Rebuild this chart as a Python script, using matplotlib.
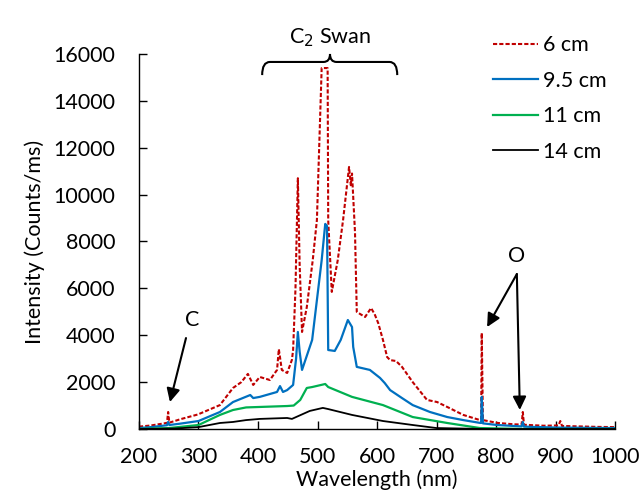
import matplotlib
matplotlib.use("Agg")
from matplotlib import pyplot as plt
from matplotlib.path import Path
from matplotlib.patches import PathPatch

plt.rcParams['font.family'] = ['Lato', 'DejaVu Sans']

# 6 cm
wl_6 = [200, 220, 240, 247, 249, 251, 270, 299, 336, 358, 372, 383, 392, 403, 420, 432, 435,
        440, 449, 457, 459, 463, 467, 470, 474, 482, 492, 499, 507, 517, 518, 524, 534, 543,
        553, 556, 558, 563, 566, 572, 580, 590, 596, 602, 610, 617, 622, 632, 642, 660, 684,
        701, 718, 745, 773, 775, 776, 778, 802, 830, 843, 845, 847, 880, 905, 908, 911, 940,
        970, 1000]
int_6 = [100, 150, 230, 260, 725, 270, 420, 620, 1020, 1750, 2000, 2350, 1880, 2220, 2090, 2520, 3410,
         2520, 2390, 2950, 3370, 6000, 10700, 7000, 4140, 5200, 7200, 8920, 15400, 15400, 8900, 5850, 7200, 8920,
         11180, 10400, 10900, 8400, 5000, 4900, 4780, 5160, 4900, 4520, 3800, 3070, 2940, 2900, 2650, 2000, 1240,
         1150, 940, 600, 380, 400, 4100, 380, 260, 200, 190, 725, 180, 140, 150, 340, 130, 110,
         90, 80]

# 9.5 cm
wl_95 = [200, 220, 247, 249, 251, 270, 300, 336, 358, 387, 392, 403, 432, 437, 442, 449, 459,
         464, 467, 470, 474, 491, 507, 513, 516, 518, 529, 539, 551, 558, 560, 566, 588, 605,
         613, 622, 642, 660, 689, 718, 745, 773, 775, 776, 778, 802, 843, 845, 847, 900, 1000]
int_95 = [40, 80, 160, 300, 170, 230, 340, 725, 1150, 1450, 1320, 1370, 1580, 1830, 1580, 1660, 1880,
          3000, 4140, 3300, 2520, 3800, 7200, 8750, 8660, 3370, 3330, 3800, 4650, 4350, 3500, 2650, 2520, 2180,
          1960, 1660, 1320, 1020, 725, 510, 380, 260, 260, 1370, 240, 170, 110, 300, 100, 60, 40]

# 11 cm
wl_11 = [200, 250, 300, 336, 358, 380, 403, 449, 460, 471, 482, 491, 513, 518, 558, 610,
         660, 718, 773, 850, 1000]
int_11 = [0, 40, 170, 600, 810, 920, 940, 980, 1000, 1240, 1750, 1790, 1920, 1790, 1370, 1020,
          510, 256, 40, 0, 0]

# 14 cm
wl_14 = [200, 260, 300, 336, 358, 380, 403, 449, 457, 487, 509, 518, 558, 610, 660, 700, 780, 1000]
int_14 = [0, 20, 80, 256, 300, 380, 430, 470, 430, 770, 900, 850, 600, 340, 170, 40, 0, 0]

xticks = list(range(200, 1001, 100))
yticks = list(range(0, 16001, 2000))

fs = 15.5

fig = plt.figure(figsize=(6.39, 4.99), dpi=100)
ax = fig.add_axes([0.2175, 0.1403, 0.745, 0.7515])

ax.plot(wl_6, int_6, color='#C00000', lw=1.5, linestyle=(0, (2, 1)), label='6 cm')
ax.plot(wl_95, int_95, color='#0070C0', lw=1.6, label='9.5 cm')
ax.plot(wl_11, int_11, color='#00B050', lw=1.6, label='11 cm')
ax.plot(wl_14, int_14, color='black', lw=1.3, label='14 cm')

ax.set_xlim(200, 1000)
ax.set_ylim(0, 16000)
ax.set_xticks(xticks)
ax.set_yticks(yticks)
ax.tick_params(direction='in', length=6, width=1, labelsize=fs)
ax.tick_params(axis='y', pad=17)
ax.tick_params(axis='x', pad=13)
for s in ['top', 'right']:
    ax.spines[s].set_visible(False)
for s in ['left', 'bottom']:
    ax.spines[s].set_linewidth(1)

ax.set_xlabel('Wavelength (nm)', fontsize=fs, labelpad=2)
ax.set_ylabel('Intensity (Counts/ms)', fontsize=fs, labelpad=6)

leg = ax.legend(loc='upper left', bbox_to_anchor=(0.744, 1.05), frameon=False, fontsize=fs,
                borderpad=0, borderaxespad=0,
                handlelength=2.1, handletextpad=0.2, labelspacing=0.72)

# C2 Swan bracket
verts = [(407, 15100), (407, 15660), (420, 15660),
         (510, 15660), (521, 15660), (521, 16000),
         (521, 15660), (532, 15660),
         (621, 15660), (634, 15660), (634, 15100)]
codes = [Path.MOVETO, Path.CURVE3, Path.CURVE3,
         Path.LINETO, Path.CURVE3, Path.CURVE3,
         Path.CURVE3, Path.CURVE3,
         Path.LINETO, Path.CURVE3, Path.CURVE3]
ax.add_patch(PathPatch(Path(verts, codes), fill=False, lw=1.5, color='black', clip_on=False))
ax.text(521, 16700, 'C$_2$ Swan', ha='center', va='center', fontsize=fs, clip_on=False)

arrow = dict(arrowstyle='-|>', color='black', lw=1.5, mutation_scale=20, shrinkA=0, shrinkB=0)
ax.text(289, 4650, 'C', ha='center', va='center', fontsize=fs)
ax.annotate('', xy=(252, 1150), xytext=(279, 3880), arrowprops=arrow)
ax.text(835, 7380, 'O', ha='center', va='center', fontsize=fs)
ax.annotate('', xy=(785, 4350), xytext=(835, 6610), arrowprops=arrow)
ax.annotate('', xy=(840, 810), xytext=(835, 6610), arrowprops=arrow)

fig.savefig('out.png', dpi=100)
